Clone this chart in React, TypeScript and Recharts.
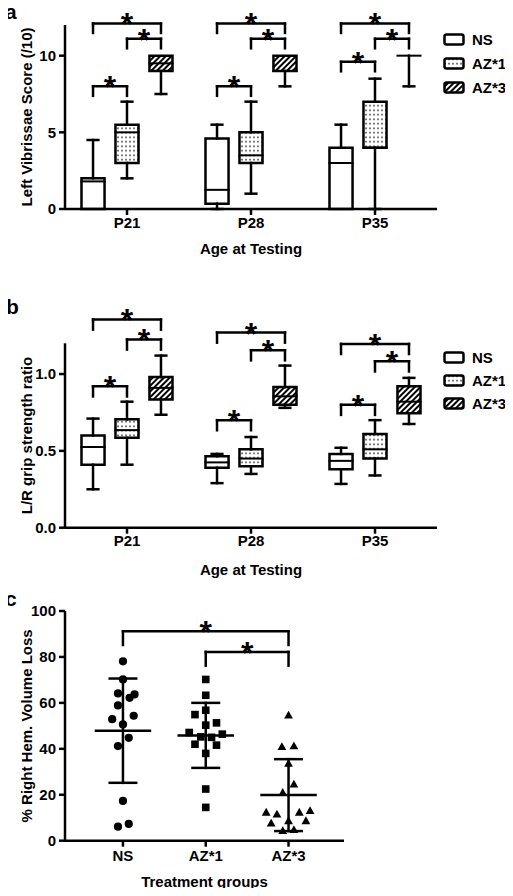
import {
  Legend,
  ReferenceArea,
  ReferenceLine,
  Scatter,
  ScatterChart,
  XAxis,
  YAxis,
} from "recharts";

const font = "'Liberation Sans', Arial, Helvetica, sans-serif";

const ages = ["P21", "P28", "P35"];
const groups = ["NS", "AZ*1", "AZ*3"];
const groupFills = ["#fff", "url(#dotFill)", "url(#hatchFill)"];

// panel a: [min, q1, median, q3, max] per age
const scoreNS = [[0, 0, 1.8, 2, 4.5], [0, 0.35, 1.25, 4.6, 5.5], [0, 0, 3, 4, 5.5]];
const scoreAZ1 = [[2, 3, 5, 5.5, 7], [1, 3, 3.5, 5, 7], [0, 4, 4, 7, 8.5]];
const scoreAZ3 = [[7.5, 9, 9.5, 10, 10], [8, 9, 9, 10, 10], [8, 10, 10, 10, 10]];
// bracket heights: NS-AZ*1, AZ*1-AZ*3, NS-AZ*3
const scoreBrackets = [[8, 11.1, 12.1], [8, 11.1, 12.1], [9.6, 11.1, 12.1]];

// panel b
const gripNS = [[0.25, 0.41, 0.525, 0.6, 0.71], [0.29, 0.39, 0.425, 0.465, 0.48], [0.285, 0.38, 0.435, 0.48, 0.52]];
const gripAZ1 = [[0.41, 0.585, 0.635, 0.705, 0.82], [0.35, 0.4, 0.45, 0.51, 0.59], [0.34, 0.45, 0.51, 0.61, 0.7]];
const gripAZ3 = [[0.735, 0.835, 0.91, 0.98, 1.12], [0.78, 0.8, 0.855, 0.915, 1.055], [0.675, 0.745, 0.82, 0.92, 0.975]];
const gripBrackets = [[0.92, 1.225, 1.355], [0.7, 1.155, 1.27], [0.8, 1.083, 1.196]];

// panel c: values and horizontal scatter (in category units)
const volNS = [78.1, 70.2, 64.1, 63.7, 62.2, 58.9, 54.4, 52.9, 50.6, 44.8, 41.2, 17.3, 7.3, 6.1];
const volNSJitter = [0, 0, -0.06, 0.14, 0.08, -0.06, 0.13, -0.13, 0, 0.07, -0.06, 0, 0.07, -0.06];
const volAZ1 = [70.2, 63.3, 56.8, 54.9, 51.3, 50.3, 47.1, 46.4, 45.2, 45.0, 42.0, 41.6, 38.0, 22.5, 14.5];
const volAZ1Jitter = [0, 0, 0, -0.13, 0.13, 0, -0.2, 0.2, -0.06, 0.07, -0.13, 0.13, 0, 0, 0];
const volAZ3 = [54.6, 40.9, 41.2, 33.6, 24.5, 20.9, 12.3, 11.5, 12.3, 13.0, 7.6, 8.6, 8.6, 4.3, 4.7];
const volAZ3Jitter = [0, -0.08, 0.065, 0, 0.065, -0.07, -0.27, -0.14, 0.13, 0.26, -0.21, 0.21, 0, -0.07, 0.065];
const volMean = [47.9, 45.85, 19.85];
const volSd = [22.7, 14.15, 15.65];
// NS-AZ*3, AZ*1-AZ*3
const volBrackets = [91.2, 82.2];

const axisStroke = { stroke: "#000", strokeWidth: 2.5 };
const tickStyle = { fill: "#000", fontSize: 15, fontWeight: 700, fontFamily: font };
const labelStyle = { fill: "#000", fontSize: 15, fontWeight: 700, fontFamily: font };
const starLabel = {
  value: "*",
  position: "top" as const,
  offset: -12,
  fill: "#000",
  fontSize: 32,
  fontWeight: 700,
  fontFamily: font,
};

const boxOffsets = [-0.274, 0, 0.274];
const BOX_HALF = 0.093;
const CAP_HALF = 0.043;

function seg(key: string, x1: number, y1: number, x2: number, y2: number, w = 2.5, label?: object) {
  return (
    <ReferenceLine
      key={key}
      segment={[{ x: x1, y: y1 }, { x: x2, y: y2 }]}
      stroke="#000"
      strokeWidth={w}
      strokeLinecap="square"
      ifOverflow="visible"
      label={label}
    />
  );
}

function bracket(key: string, xa: number, xb: number, y: number, drop: number) {
  return [
    seg(key + "l", xa, y - drop, xa, y),
    seg(key + "r", xb, y - drop, xb, y),
    seg(key + "t", xa, y, xb, y, 2.5, starLabel),
  ];
}

function boxes(stats: number[][][]) {
  const out: any[] = [];
  stats.forEach((groupStats, g) => {
    groupStats.forEach(([min, q1, med, q3, max], a) => {
      const cx = a + 0.5 + boxOffsets[g];
      const k = `b${g}-${a}`;
      if (max > q3) {
        out.push(seg(k + "wt", cx, q3, cx, max));
        out.push(seg(k + "ct", cx - CAP_HALF, max, cx + CAP_HALF, max));
      }
      if (min < q1) {
        out.push(seg(k + "wb", cx, min, cx, q1));
        out.push(seg(k + "cb", cx - CAP_HALF, min, cx + CAP_HALF, min));
      }
      out.push(
        <ReferenceArea
          key={k + "box"}
          x1={cx - BOX_HALF}
          x2={cx + BOX_HALF}
          y1={q1}
          y2={q3}
          fill={groupFills[g]}
          fillOpacity={1}
          stroke="#000"
          strokeWidth={2.5}
          ifOverflow="visible"
        />,
      );
      out.push(seg(k + "med", cx - BOX_HALF, med, cx + BOX_HALF, med, 2));
    });
  });
  return out;
}

// median points: carry the data into the chart so the axes get a domain
const medianPoints = (stats: number[][][]) =>
  stats.flatMap((groupStats, g) =>
    groupStats.map((s, a) => ({ x: a + 0.5 + boxOffsets[g], y: s[2] })),
  );

function ageBrackets(rows: number[][], drop: number) {
  const pairs = [[0, 1], [1, 2], [0, 2]];
  return rows.flatMap((heights, a) =>
    pairs.flatMap(([p, q], i) =>
      bracket(`k${a}-${i}`, a + 0.5 + boxOffsets[p], a + 0.5 + boxOffsets[q], heights[i], drop),
    ),
  );
}

function GroupLegend({ rowHeight }: { rowHeight: number }) {
  return (
    <div style={{ fontFamily: font, fontWeight: 700, fontSize: 15, color: "#000" }}>
      {groups.map((g, i) => (
        <div key={g} style={{ display: "flex", alignItems: "center", height: rowHeight }}>
          <svg width={22} height={13}>
            <rect x={1.5} y={1.5} width={19} height={10} rx={2} fill={groupFills[i]} stroke="#000" strokeWidth={2.5} />
          </svg>
          <span style={{ marginLeft: 7 }}>{g}</span>
        </div>
      ))}
    </div>
  );
}

type BoxPanelProps = {
  top: number;
  height: number;
  margin: { top: number; right: number; bottom: number; left: number };
  stats: number[][][];
  brackets: number[][];
  drop: number;
  yMax: number;
  yTicks: number[];
  yFormat: (v: number) => string;
  yLabel: string;
  xLabelOffset: number;
  legendTop: number;
  legendRow: number;
};

const NoMark = () => <g />;

function BoxPanel(p: BoxPanelProps) {
  return (
    <div style={{ position: "absolute", left: 0, top: p.top }}>
      <ScatterChart width={513} height={p.height} margin={p.margin}>
        <XAxis
          type="number"
          dataKey="x"
          domain={[0, 3]}
          ticks={[0.5, 1.5, 2.5]}
          interval={0}
          tickFormatter={(v: number) => ages[Math.floor(v)]}
          axisLine={axisStroke}
          tickLine={axisStroke}
          tickSize={6}
          tickMargin={2}
          tick={tickStyle}
          height={50}
          label={{ value: "Age at Testing", position: "insideBottom", offset: p.xLabelOffset, style: labelStyle }}
        />
        <YAxis
          type="number"
          dataKey="y"
          domain={[0, p.yMax]}
          ticks={p.yTicks}
          interval={0}
          tickFormatter={p.yFormat}
          axisLine={axisStroke}
          tickLine={axisStroke}
          tickSize={6}
          tickMargin={3}
          tick={tickStyle}
          width={65}
          label={{
            value: p.yLabel,
            angle: -90,
            position: "insideLeft",
            offset: 27,
            style: { ...labelStyle, textAnchor: "middle" },
          }}
        />
        <Legend
          layout="vertical"
          align="center"
          verticalAlign="middle"
          wrapperStyle={{ left: 443, top: p.legendTop, width: 70 }}
          content={() => <GroupLegend rowHeight={p.legendRow} />}
        />
        {boxes(p.stats)}
        {ageBrackets(p.brackets, p.drop)}
        <Scatter data={medianPoints(p.stats)} shape={NoMark} isAnimationActive={false} legendType="none" />
      </ScatterChart>
    </div>
  );
}

const Circle = (s: any) => <circle cx={s.cx} cy={s.cy} r={4.1} fill="#000" />;
const Square = (s: any) => <rect x={s.cx - 3.8} y={s.cy - 3.8} width={7.6} height={7.6} fill="#000" />;
const Triangle = (s: any) => (
  <polygon points={`${s.cx},${s.cy - 4.6} ${s.cx + 4.4},${s.cy + 3.2} ${s.cx - 4.4},${s.cy + 3.2}`} fill="#000" />
);

const toPoints = (vals: number[], jitter: number[], cat: number) =>
  vals.map((v, i) => ({ x: cat + jitter[i], y: v }));

function VolumePanel() {
  const errorBars = volMean.flatMap((m, g) => {
    const cx = g + 1;
    const sd = volSd[g];
    return [
      seg(`m${g}`, cx - 0.326, m, cx + 0.326, m),
      seg(`v${g}`, cx, m - sd, cx, m + sd),
      seg(`ch${g}`, cx - 0.16, m + sd, cx + 0.16, m + sd),
      seg(`cl${g}`, cx - 0.16, m - sd, cx + 0.16, m - sd),
    ];
  });
  return (
    <div style={{ position: "absolute", left: 0, top: 570 }}>
      <ScatterChart width={513} height={326} margin={{ top: 41, right: 169, bottom: 5.3, left: 0 }}>
        <XAxis
          type="number"
          dataKey="x"
          domain={[0.3, 3.67]}
          ticks={[1, 2, 3]}
          interval={0}
          tickFormatter={(v: number) => groups[v - 1]}
          axisLine={axisStroke}
          tickLine={axisStroke}
          tickSize={6}
          tickMargin={4}
          tick={tickStyle}
          height={50}
          label={{ value: "Treatment groups", position: "insideBottom", offset: 4, style: labelStyle }}
        />
        <YAxis
          type="number"
          dataKey="y"
          domain={[0, 100]}
          ticks={[0, 20, 40, 60, 80, 100]}
          interval={0}
          axisLine={axisStroke}
          tickLine={axisStroke}
          tickSize={6}
          tickMargin={3}
          tick={tickStyle}
          width={65}
          label={{
            value: "% Right Hem. Volume Loss",
            angle: -90,
            position: "insideLeft",
            offset: 27,
            style: { ...labelStyle, textAnchor: "middle" },
          }}
        />
        {errorBars}
        {bracket("c0", 1, 3, volBrackets[0], 6)}
        {bracket("c1", 2, 3, volBrackets[1], 6)}
        <Scatter data={toPoints(volNS, volNSJitter, 1)} shape={Circle} isAnimationActive={false} />
        <Scatter data={toPoints(volAZ1, volAZ1Jitter, 2)} shape={Square} isAnimationActive={false} />
        <Scatter data={toPoints(volAZ3, volAZ3Jitter, 3)} shape={Triangle} isAnimationActive={false} />
      </ScatterChart>
    </div>
  );
}

export default function App() {
  return (
    <div style={{ position: "relative", width: 513, height: 896, margin: -8, background: "#fff", fontFamily: font }}>
      <BoxPanel
        top={0}
        height={260}
        margin={{ top: 25, right: 76, bottom: 1, left: 0 }}
        stats={[scoreNS, scoreAZ1, scoreAZ3]}
        brackets={scoreBrackets}
        drop={0.62}
        yMax={12}
        yTicks={[0, 5, 10]}
        yFormat={(v) => String(v)}
        yLabel="Left Vibrissae Score (/10)"
        xLabelOffset={5}
        legendTop={27}
        legendRow={24}
      />
      <BoxPanel
        top={280}
        height={300}
        margin={{ top: 63.3, right: 76, bottom: 2.3, left: 0 }}
        stats={[gripNS, gripAZ1, gripAZ3]}
        brackets={gripBrackets}
        drop={0.066}
        yMax={1.2}
        yTicks={[0, 0.5, 1]}
        yFormat={(v) => v.toFixed(1)}
        yLabel="L/R grip strength ratio"
        xLabelOffset={3}
        legendTop={66}
        legendRow={23}
      />
      <VolumePanel />
      <svg width={513} height={896} style={{ position: "absolute", left: 0, top: 0, pointerEvents: "none" }}>
        <defs>
          <pattern id="dotFill" width={4} height={4.5} patternUnits="userSpaceOnUse">
            <rect width={4} height={4.5} fill="#fff" />
            <circle cx={2} cy={2.25} r={0.8} fill="#222" />
          </pattern>
          <pattern id="hatchFill" width={4} height={4} patternUnits="userSpaceOnUse" patternTransform="rotate(45)">
            <rect width={4} height={4} fill="#fff" />
            <rect width={2} height={4} fill="#000" />
          </pattern>
        </defs>
        <text x={5} y={19} fontSize={21} fontWeight={700} fontFamily={font}>a</text>
        <text x={6} y={314} fontSize={21} fontWeight={700} fontFamily={font}>b</text>
        <text x={5} y={606} fontSize={21} fontWeight={700} fontFamily={font}>c</text>
      </svg>
    </div>
  );
}
